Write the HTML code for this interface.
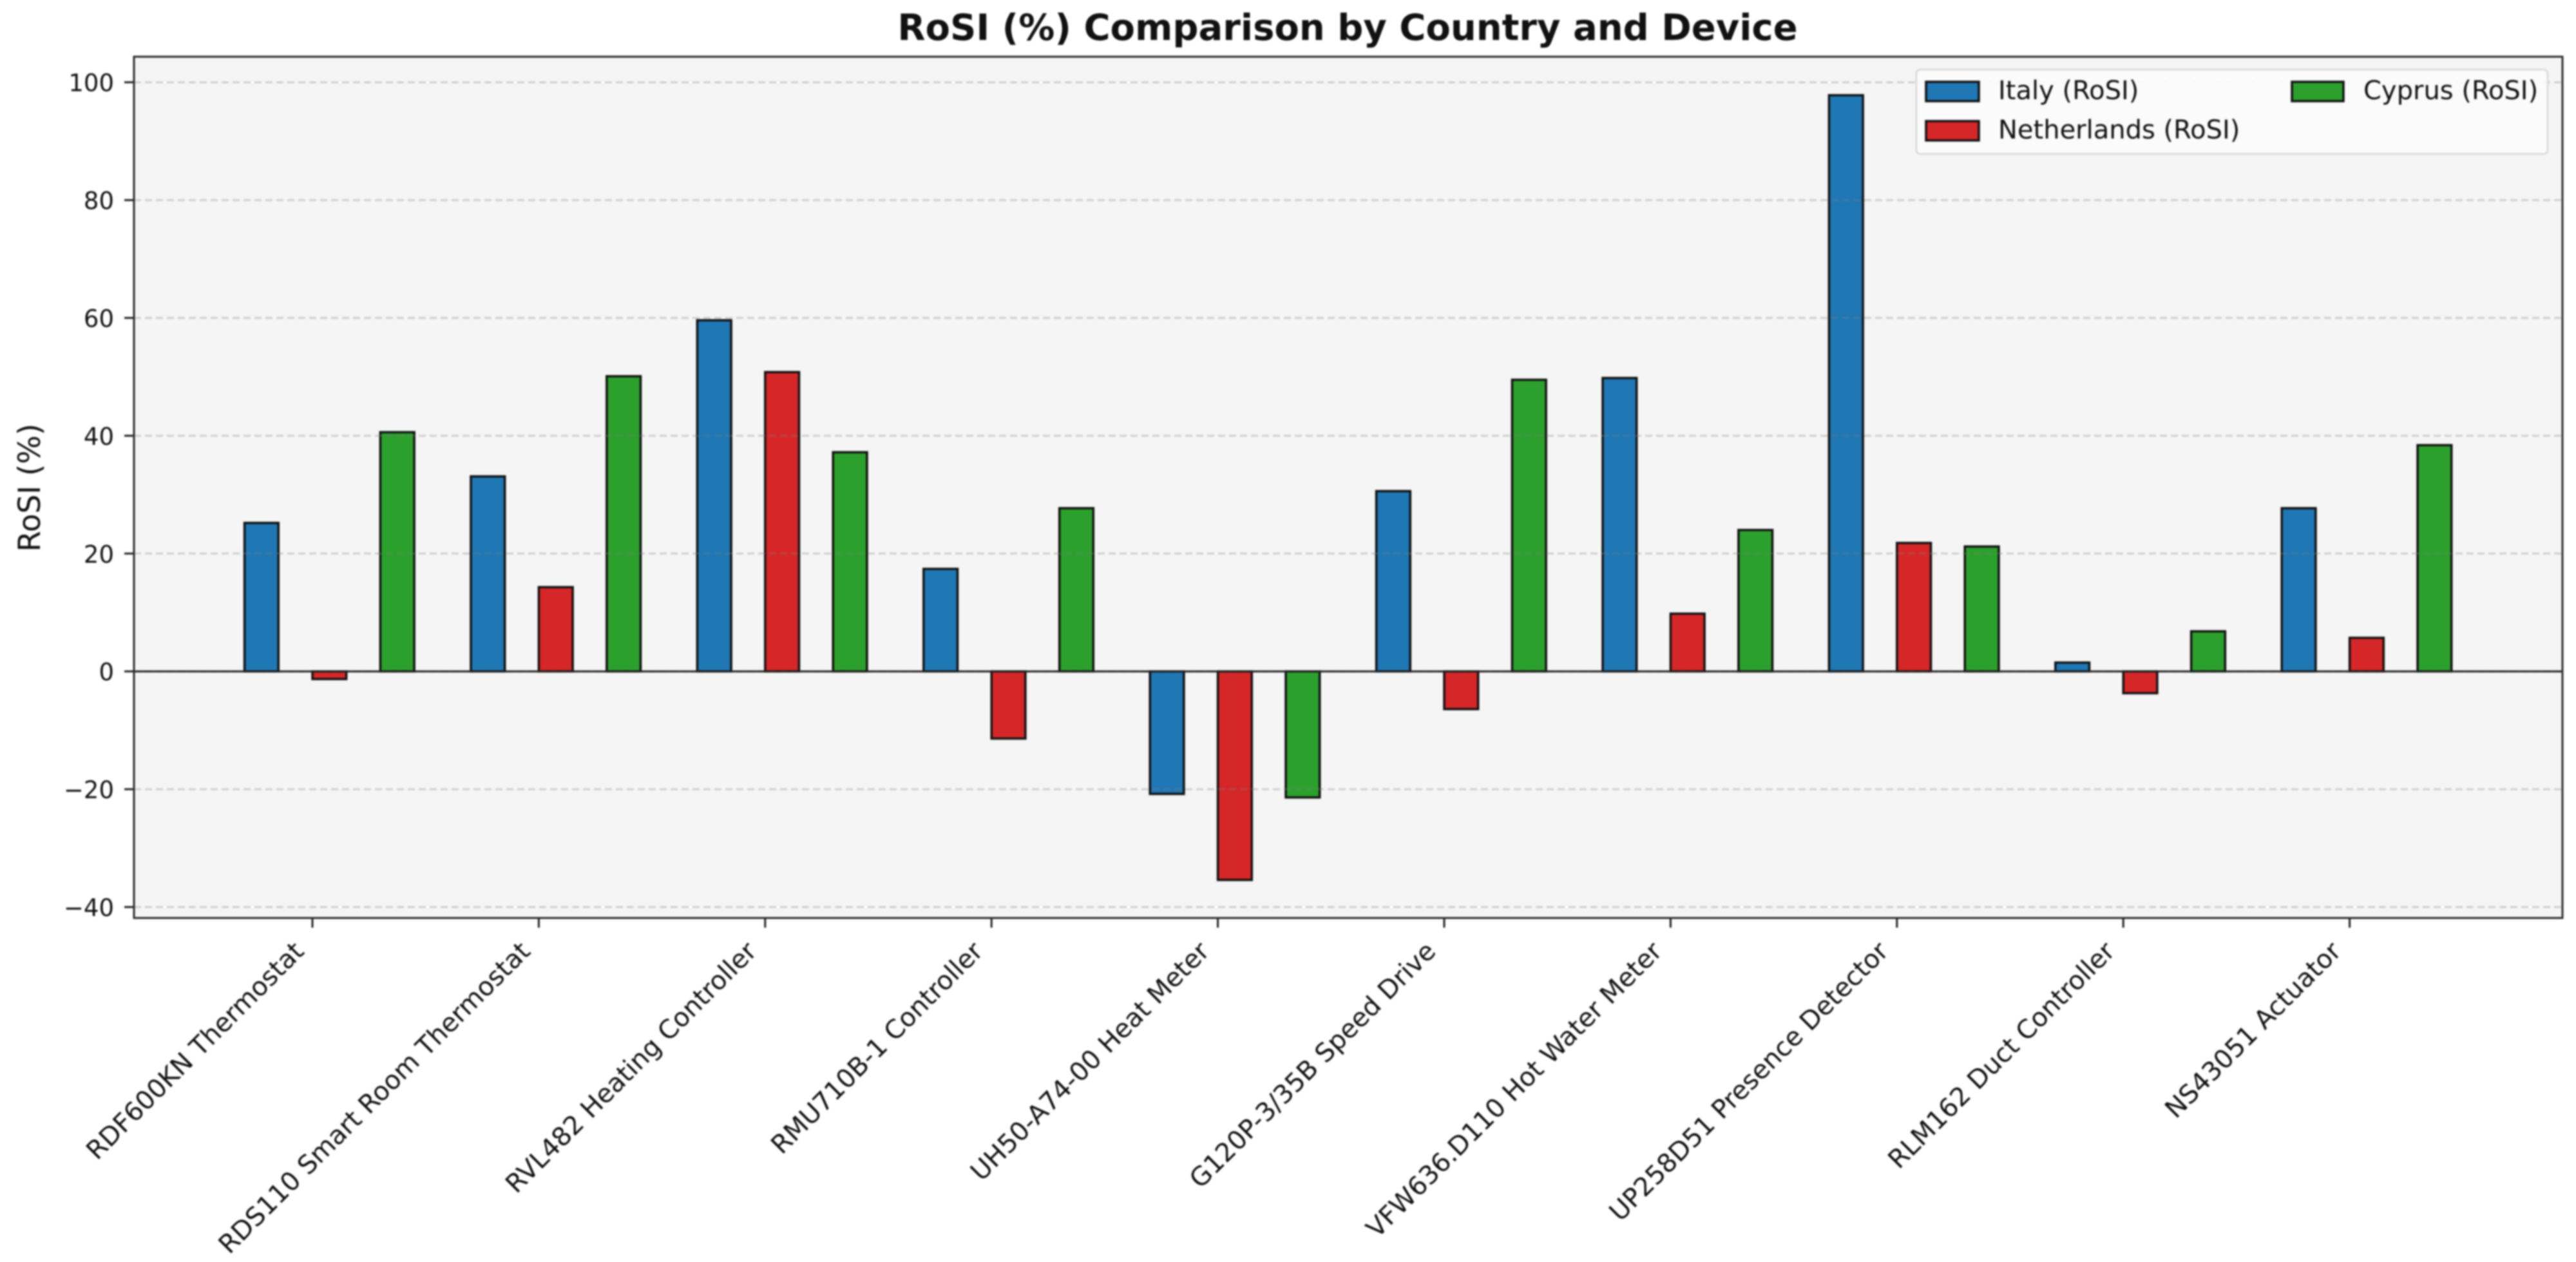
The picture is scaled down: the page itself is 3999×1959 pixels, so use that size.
<!DOCTYPE html>
<html lang="en">
<head>
<meta charset="utf-8">
<title>RoSI (%) Comparison by Country and Device</title>
<style>
html,body{margin:0;padding:0;background:#fff;width:3999px;height:1959px;overflow:hidden}
svg{display:block;filter:blur(1.3px)}
text{font-family:"DejaVu Sans","Liberation Sans",sans-serif;fill:#111}
</style>
</head>
<body>
<svg id="chart" xmlns="http://www.w3.org/2000/svg" width="3999" height="1959" viewBox="0 0 3999 1959">
  <rect x="208" y="88" width="3770" height="1337" fill="#f5f5f5"/>
  <g id="bars"></g>
  <g id="grid"></g>
  <g id="zero"></g>
  <g id="yticks"></g>
  <g id="xticks"></g>
  <rect x="208" y="88" width="3770" height="1337" fill="none" stroke="#2a2a2a" stroke-width="3"/>
  <text x="2092" y="62" text-anchor="middle" font-size="56" font-weight="700">RoSI (%) Comparison by Country and Device</text>
  <text x="62" y="757" text-anchor="middle" font-size="47" transform="rotate(-90 62 757)">RoSI (%)</text>
  <g>
    <rect x="2975" y="108" width="980" height="131" rx="6" fill="#fcfcfc" fill-opacity="0.9" stroke="#dcdcdc" stroke-width="3"/>
    <g>
      <rect x="2990" y="127" width="82" height="30" fill="#1f77b4" stroke="#111" stroke-width="3.5"/>
      <text x="3102" y="154" font-size="40">Italy (RoSI)</text>
    </g>
    <g>
      <rect x="2990" y="188" width="82" height="30" fill="#d62728" stroke="#111" stroke-width="3.5"/>
      <text x="3102" y="215" font-size="40">Netherlands (RoSI)</text>
    </g>
    <g>
      <rect x="3558" y="127" width="80" height="30" fill="#2ca02c" stroke="#111" stroke-width="3.5"/>
      <text x="3669" y="154" font-size="40">Cyprus (RoSI)</text>
    </g>
  </g>
</svg>
<script>
const categories = ["RDF600KN Thermostat","RDS110 Smart Room Thermostat","RVL482 Heating Controller","RMU710B-1 Controller","UH50-A74-00 Heat Meter","G120P-3/35B Speed Drive","VFW636.D110 Hot Water Meter","UP258D51 Presence Detector","RLM162 Duct Controller","NS43051 Actuator"];
const italy = [25.2,33.1,59.6,17.4,-20.8,30.6,49.8,97.8,1.5,27.7];
const netherlands = [-1.3,14.3,50.8,-11.4,-35.4,-6.4,9.8,21.8,-3.7,5.7];
const cyprus = [40.6,50.1,37.2,27.7,-21.4,49.5,24.0,21.2,6.8,38.4];
const seriesNames = ["italy","netherlands","cyprus"];
const seriesColors = ["#1f77b4","#d62728","#2ca02c"];
const yTickValues = [-40,-20,0,20,40,60,80,100];

const NS = "http://www.w3.org/2000/svg";
const xScale = function (i) { return 485 + i * 351.4; };
const yScale = function (v) { return 1042.2 - v * 9.145; };
const barOffsets = [-0.225, 0.075, 0.375];
const barWidth = 0.15;

function make(tag, parentId) {
  const el = document.createElementNS(NS, tag);
  document.getElementById(parentId).appendChild(el);
  return el;
}

[italy, netherlands, cyprus].forEach(function (values, s) {
  values.forEach(function (v, i) {
    const r = make("rect", "bars");
    
    
    const cx = xScale(i + barOffsets[s]);
    const w = xScale(barWidth) - xScale(0);
    const top = Math.min(yScale(v), yScale(0));
    r.setAttribute("x", cx - w / 2);
    r.setAttribute("y", top);
    r.setAttribute("width", w);
    r.setAttribute("height", Math.abs(yScale(v) - yScale(0)));
    r.setAttribute("fill", seriesColors[s]);
    r.setAttribute("stroke", "#111");
    r.setAttribute("stroke-width", "3.5");
  });
});

yTickValues.forEach(function (v) {
  const y = yScale(v);
  const g = make("line", "grid");
  
  
  g.setAttribute("x1", 208); g.setAttribute("x2", 3978);
  g.setAttribute("y1", y); g.setAttribute("y2", y);
  g.setAttribute("stroke", "#808080");
  g.setAttribute("stroke-opacity", "0.32");
  g.setAttribute("stroke-width", "3");
  g.setAttribute("stroke-dasharray", "11 6");

  const t = make("line", "yticks");
  
  
  t.setAttribute("x1", 193); t.setAttribute("x2", 208);
  t.setAttribute("y1", y); t.setAttribute("y2", y);
  t.setAttribute("stroke", "#222");
  t.setAttribute("stroke-width", "3");

  const l = make("text", "yticks");
  
  
  l.setAttribute("x", 177);
  l.setAttribute("y", y + 14);
  l.setAttribute("text-anchor", "end");
  l.setAttribute("font-size", "37");
  l.textContent = (v < 0 ? "\u2212" + Math.abs(v) : String(v));
});

const z = make("line", "zero");


z.setAttribute("x1", 208); z.setAttribute("x2", 3978);
z.setAttribute("y1", yScale(0)); z.setAttribute("y2", yScale(0));
z.setAttribute("stroke", "#222");
z.setAttribute("stroke-width", "3");

categories.forEach(function (name, i) {
  const x = xScale(i);
  const t = make("line", "xticks");
  
  
  t.setAttribute("x1", x); t.setAttribute("x2", x);
  t.setAttribute("y1", 1425); t.setAttribute("y2", 1440);
  t.setAttribute("stroke", "#222");
  t.setAttribute("stroke-width", "3");

  const l = make("text", "xticks");
  
  
  const ax = x - 11, ay = 1479;
  l.setAttribute("x", ax);
  l.setAttribute("y", ay);
  l.setAttribute("text-anchor", "end");
  l.setAttribute("font-size", "40");
  l.setAttribute("transform", "rotate(-45 " + ax + " " + ay + ")");
  l.textContent = name;
});
</script>
</body>
</html>
